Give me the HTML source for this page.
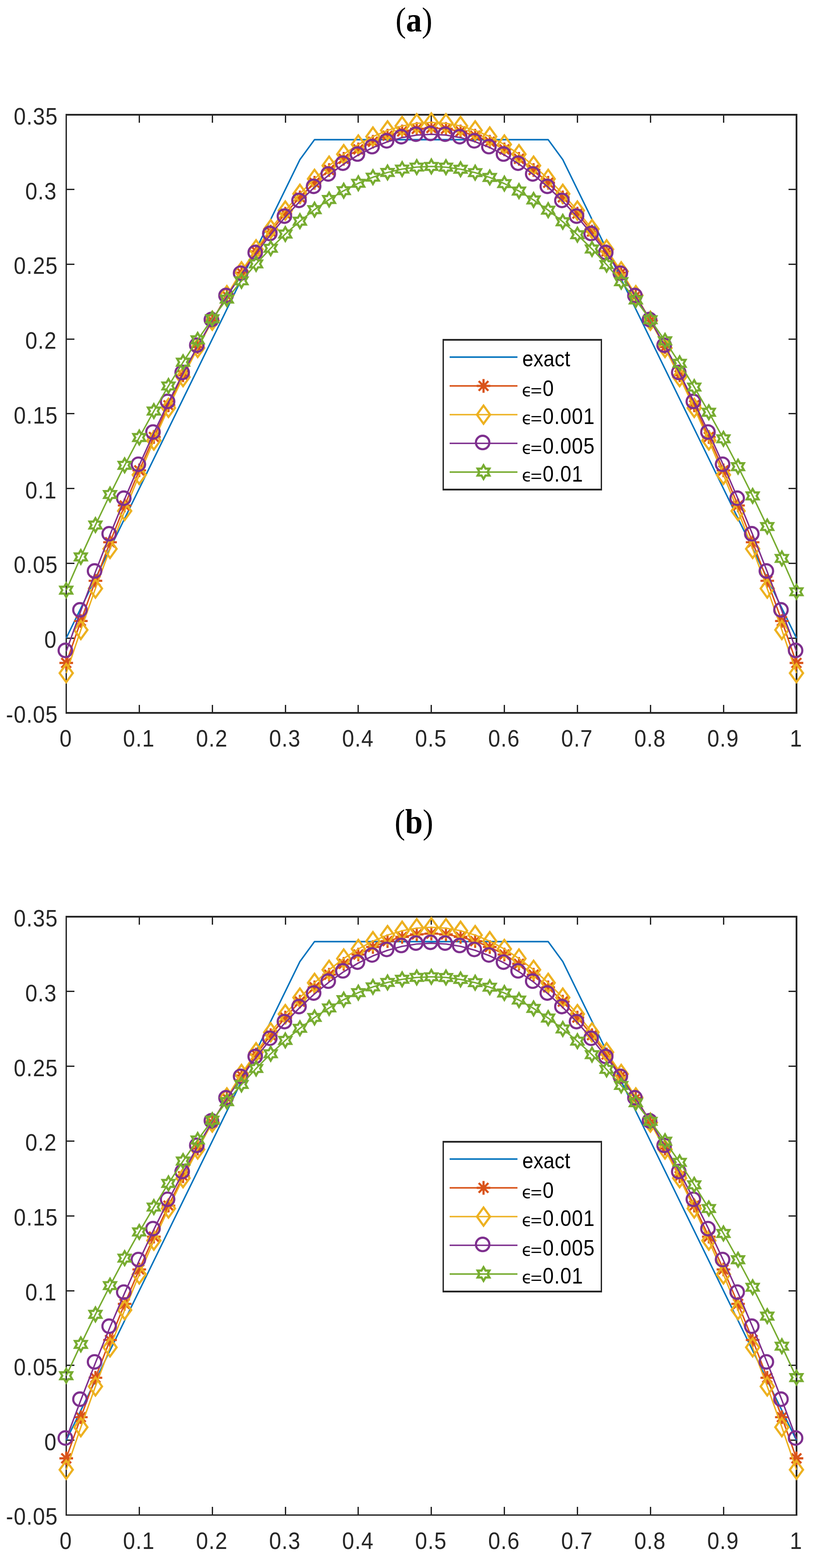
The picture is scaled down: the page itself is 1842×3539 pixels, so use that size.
<!DOCTYPE html>
<html><head><meta charset="utf-8"><title>Plot</title>
<style>html,body{margin:0;padding:0;background:#fff;}svg{display:block;}</style>
</head><body>
<svg width="1842" height="3539" viewBox="0 0 1842 3539">
<rect width="1842" height="3539" fill="#fff"/>
<defs>
<path id="mA" d="M-15.4 0 H15.4 M0 -15.4 V15.4 M-10.89 -10.89 L10.89 10.89 M-10.89 10.89 L10.89 -10.89" fill="none" stroke="#D95319" stroke-width="4.85"/>
<path id="mD" d="M0 -20.5 L14.9 0 L0 20.5 L-14.9 0 Z" fill="none" stroke="#EDB120" stroke-width="4.85" stroke-miterlimit="10"/>
<circle id="mO" cx="-2" cy="-2" r="15.2" fill="none" stroke="#7E2F8E" stroke-width="4.85"/>
<path id="mH" d="M0 -15.5 L-4.47 -7.75 L-13.42 -7.75 L-8.95 -0 L-13.42 7.75 L-4.47 7.75 L-0 15.5 L4.47 7.75 L13.42 7.75 L8.95 0 L13.42 -7.75 L4.47 -7.75 Z" fill="none" stroke="#77AC30" stroke-width="4.85" stroke-miterlimit="10"/>
</defs>
<path d="M148 257h1652v4h-1652z M148 1607h1652v4h-1652z M148 257h3v1354h-3z M1796 257h4v1354h-4z M148 1591h3v18h-3z M148 259h3v18h-3z M313 1591h3v18h-3z M313 259h3v18h-3z M478 1591h3v18h-3z M478 259h3v18h-3z M643 1591h3v18h-3z M643 259h3v18h-3z M807 1591h3v18h-3z M807 259h3v18h-3z M972 1591h3v18h-3z M972 259h3v18h-3z M1137 1591h3v18h-3z M1137 259h3v18h-3z M1302 1591h3v18h-3z M1302 259h3v18h-3z M1467 1591h3v18h-3z M1467 259h3v18h-3z M1632 1591h3v18h-3z M1632 259h3v18h-3z M1796 1591h3v18h-3z M1796 259h3v18h-3z M150 1607h18v3h-18z M1780 1607h18v3h-18z M150 1439h18v3h-18z M1780 1439h18v3h-18z M150 1270h18v3h-18z M1780 1270h18v3h-18z M150 1101h18v3h-18z M1780 1101h18v3h-18z M150 932h18v3h-18z M1780 932h18v3h-18z M150 764h18v3h-18z M1780 764h18v3h-18z M150 595h18v3h-18z M1780 595h18v3h-18z M150 426h18v3h-18z M1780 426h18v3h-18z M150 257h18v3h-18z M1780 257h18v3h-18z" fill="#262626"/>
<polyline points="149.5,1440.25 182.47,1372.75 215.44,1305.25 248.4,1237.75 281.37,1170.25 314.34,1102.75 347.31,1035.25 380.28,967.75 413.24,900.25 446.21,832.75 479.18,765.25 512.15,697.75 545.12,630.25 578.08,562.75 611.05,495.25 644.02,427.75 676.99,360.25 709.96,315.25 742.92,315.25 775.89,315.25 808.86,315.25 841.83,315.25 874.8,315.25 907.76,315.25 940.73,315.25 973.7,315.25 1006.67,315.25 1039.64,315.25 1072.6,315.25 1105.57,315.25 1138.54,315.25 1171.51,315.25 1204.48,315.25 1237.44,315.25 1270.41,360.25 1303.38,427.75 1336.35,495.25 1369.32,562.75 1402.28,630.25 1435.25,697.75 1468.22,765.25 1501.19,832.75 1534.16,900.25 1567.12,967.75 1600.09,1035.25 1633.06,1102.75 1666.03,1170.25 1699,1237.75 1731.96,1305.25 1764.93,1372.75 1797.9,1440.25" fill="none" stroke="#0072BD" stroke-width="3.3" stroke-linejoin="round"/>
<polyline points="149.5,1496.27 182.47,1401.61 215.44,1310.82 248.4,1223.88 281.37,1140.81 314.34,1061.61 347.31,986.27 380.28,914.79 413.24,847.17 446.21,783.42 479.18,723.53 512.15,667.51 545.12,615.35 578.08,567.06 611.05,522.62 644.02,482.05 676.99,445.35 709.96,412.51 742.92,383.53 775.89,358.42 808.86,337.16 841.83,319.78 874.8,306.26 907.76,296.6 940.73,290.8 973.7,288.87 1006.67,290.8 1039.64,296.6 1072.6,306.26 1105.57,319.78 1138.54,337.16 1171.51,358.42 1204.48,383.53 1237.44,412.51 1270.41,445.35 1303.38,482.05 1336.35,522.62 1369.32,567.06 1402.28,615.35 1435.25,667.51 1468.22,723.54 1501.19,783.42 1534.16,847.17 1567.12,914.79 1600.09,986.27 1633.06,1061.61 1666.03,1140.81 1699,1223.88 1731.96,1310.82 1764.93,1401.61 1797.9,1496.27" fill="none" stroke="#D95319" stroke-width="3.3" stroke-linejoin="round"/>
<use href="#mA" x="149.5" y="1496.27"/>
<use href="#mA" x="182.47" y="1401.61"/>
<use href="#mA" x="215.44" y="1310.82"/>
<use href="#mA" x="248.4" y="1223.88"/>
<use href="#mA" x="281.37" y="1140.81"/>
<use href="#mA" x="314.34" y="1061.61"/>
<use href="#mA" x="347.31" y="986.27"/>
<use href="#mA" x="380.28" y="914.79"/>
<use href="#mA" x="413.24" y="847.17"/>
<use href="#mA" x="446.21" y="783.42"/>
<use href="#mA" x="479.18" y="723.53"/>
<use href="#mA" x="512.15" y="667.51"/>
<use href="#mA" x="545.12" y="615.35"/>
<use href="#mA" x="578.08" y="567.06"/>
<use href="#mA" x="611.05" y="522.62"/>
<use href="#mA" x="644.02" y="482.05"/>
<use href="#mA" x="676.99" y="445.35"/>
<use href="#mA" x="709.96" y="412.51"/>
<use href="#mA" x="742.92" y="383.53"/>
<use href="#mA" x="775.89" y="358.42"/>
<use href="#mA" x="808.86" y="337.16"/>
<use href="#mA" x="841.83" y="319.78"/>
<use href="#mA" x="874.8" y="306.26"/>
<use href="#mA" x="907.76" y="296.6"/>
<use href="#mA" x="940.73" y="290.8"/>
<use href="#mA" x="973.7" y="288.87"/>
<use href="#mA" x="1006.67" y="290.8"/>
<use href="#mA" x="1039.64" y="296.6"/>
<use href="#mA" x="1072.6" y="306.26"/>
<use href="#mA" x="1105.57" y="319.78"/>
<use href="#mA" x="1138.54" y="337.16"/>
<use href="#mA" x="1171.51" y="358.42"/>
<use href="#mA" x="1204.48" y="383.53"/>
<use href="#mA" x="1237.44" y="412.51"/>
<use href="#mA" x="1270.41" y="445.35"/>
<use href="#mA" x="1303.38" y="482.05"/>
<use href="#mA" x="1336.35" y="522.62"/>
<use href="#mA" x="1369.32" y="567.06"/>
<use href="#mA" x="1402.28" y="615.35"/>
<use href="#mA" x="1435.25" y="667.51"/>
<use href="#mA" x="1468.22" y="723.54"/>
<use href="#mA" x="1501.19" y="783.42"/>
<use href="#mA" x="1534.16" y="847.17"/>
<use href="#mA" x="1567.12" y="914.79"/>
<use href="#mA" x="1600.09" y="986.27"/>
<use href="#mA" x="1633.06" y="1061.61"/>
<use href="#mA" x="1666.03" y="1140.81"/>
<use href="#mA" x="1699" y="1223.88"/>
<use href="#mA" x="1731.96" y="1310.82"/>
<use href="#mA" x="1764.93" y="1401.61"/>
<use href="#mA" x="1797.9" y="1496.27"/>
<polyline points="149.5,1519.22 182.47,1421.79 215.44,1328.32 248.4,1238.84 281.37,1153.33 314.34,1071.8 347.31,994.25 380.28,920.67 413.24,851.07 446.21,785.45 479.18,723.8 512.15,666.14 545.12,612.45 578.08,562.73 611.05,517 644.02,475.24 676.99,437.45 709.96,403.65 742.92,373.82 775.89,347.97 808.86,326.09 841.83,308.2 874.8,294.28 907.76,284.34 940.73,278.37 973.7,276.38 1006.67,278.37 1039.64,284.34 1072.6,294.28 1105.57,308.2 1138.54,326.09 1171.51,347.97 1204.48,373.82 1237.44,403.65 1270.41,437.45 1303.38,475.24 1336.35,517 1369.32,562.73 1402.28,612.45 1435.25,666.14 1468.22,723.81 1501.19,785.45 1534.16,851.07 1567.12,920.67 1600.09,994.25 1633.06,1071.8 1666.03,1153.33 1699,1238.84 1731.96,1328.32 1764.93,1421.79 1797.9,1519.22" fill="none" stroke="#EDB120" stroke-width="3.3" stroke-linejoin="round"/>
<use href="#mD" x="149.5" y="1519.22"/>
<use href="#mD" x="182.47" y="1421.79"/>
<use href="#mD" x="215.44" y="1328.32"/>
<use href="#mD" x="248.4" y="1238.84"/>
<use href="#mD" x="281.37" y="1153.33"/>
<use href="#mD" x="314.34" y="1071.8"/>
<use href="#mD" x="347.31" y="994.25"/>
<use href="#mD" x="380.28" y="920.67"/>
<use href="#mD" x="413.24" y="851.07"/>
<use href="#mD" x="446.21" y="785.45"/>
<use href="#mD" x="479.18" y="723.8"/>
<use href="#mD" x="512.15" y="666.14"/>
<use href="#mD" x="545.12" y="612.45"/>
<use href="#mD" x="578.08" y="562.73"/>
<use href="#mD" x="611.05" y="517"/>
<use href="#mD" x="644.02" y="475.24"/>
<use href="#mD" x="676.99" y="437.45"/>
<use href="#mD" x="709.96" y="403.65"/>
<use href="#mD" x="742.92" y="373.82"/>
<use href="#mD" x="775.89" y="347.97"/>
<use href="#mD" x="808.86" y="326.09"/>
<use href="#mD" x="841.83" y="308.2"/>
<use href="#mD" x="874.8" y="294.28"/>
<use href="#mD" x="907.76" y="284.34"/>
<use href="#mD" x="940.73" y="278.37"/>
<use href="#mD" x="973.7" y="276.38"/>
<use href="#mD" x="1006.67" y="278.37"/>
<use href="#mD" x="1039.64" y="284.34"/>
<use href="#mD" x="1072.6" y="294.28"/>
<use href="#mD" x="1105.57" y="308.2"/>
<use href="#mD" x="1138.54" y="326.09"/>
<use href="#mD" x="1171.51" y="347.97"/>
<use href="#mD" x="1204.48" y="373.82"/>
<use href="#mD" x="1237.44" y="403.65"/>
<use href="#mD" x="1270.41" y="437.45"/>
<use href="#mD" x="1303.38" y="475.24"/>
<use href="#mD" x="1336.35" y="517"/>
<use href="#mD" x="1369.32" y="562.73"/>
<use href="#mD" x="1402.28" y="612.45"/>
<use href="#mD" x="1435.25" y="666.14"/>
<use href="#mD" x="1468.22" y="723.81"/>
<use href="#mD" x="1501.19" y="785.45"/>
<use href="#mD" x="1534.16" y="851.07"/>
<use href="#mD" x="1567.12" y="920.67"/>
<use href="#mD" x="1600.09" y="994.25"/>
<use href="#mD" x="1633.06" y="1071.8"/>
<use href="#mD" x="1666.03" y="1153.33"/>
<use href="#mD" x="1699" y="1238.84"/>
<use href="#mD" x="1731.96" y="1328.32"/>
<use href="#mD" x="1764.93" y="1421.79"/>
<use href="#mD" x="1797.9" y="1519.22"/>
<polyline points="149.5,1469.95 182.47,1378.46 215.44,1290.71 248.4,1206.7 281.37,1126.41 314.34,1049.86 347.31,977.05 380.28,907.97 413.24,842.62 446.21,781.01 479.18,723.13 512.15,668.99 545.12,618.58 578.08,571.9 611.05,528.96 644.02,489.75 676.99,454.27 709.96,422.53 742.92,394.53 775.89,370.26 808.86,349.72 841.83,332.92 874.8,319.85 907.76,310.51 940.73,304.91 973.7,303.04 1006.67,304.91 1039.64,310.51 1072.6,319.85 1105.57,332.92 1138.54,349.72 1171.51,370.26 1204.48,394.53 1237.44,422.53 1270.41,454.27 1303.38,489.75 1336.35,528.96 1369.32,571.9 1402.28,618.58 1435.25,668.99 1468.22,723.13 1501.19,781.01 1534.16,842.62 1567.12,907.97 1600.09,977.05 1633.06,1049.86 1666.03,1126.41 1699,1206.7 1731.96,1290.71 1764.93,1378.46 1797.9,1469.95" fill="none" stroke="#7E2F8E" stroke-width="3.3" stroke-linejoin="round"/>
<use href="#mO" x="149.5" y="1469.95"/>
<use href="#mO" x="182.47" y="1378.46"/>
<use href="#mO" x="215.44" y="1290.71"/>
<use href="#mO" x="248.4" y="1206.7"/>
<use href="#mO" x="281.37" y="1126.41"/>
<use href="#mO" x="314.34" y="1049.86"/>
<use href="#mO" x="347.31" y="977.05"/>
<use href="#mO" x="380.28" y="907.97"/>
<use href="#mO" x="413.24" y="842.62"/>
<use href="#mO" x="446.21" y="781.01"/>
<use href="#mO" x="479.18" y="723.13"/>
<use href="#mO" x="512.15" y="668.99"/>
<use href="#mO" x="545.12" y="618.58"/>
<use href="#mO" x="578.08" y="571.9"/>
<use href="#mO" x="611.05" y="528.96"/>
<use href="#mO" x="644.02" y="489.75"/>
<use href="#mO" x="676.99" y="454.27"/>
<use href="#mO" x="709.96" y="422.53"/>
<use href="#mO" x="742.92" y="394.53"/>
<use href="#mO" x="775.89" y="370.26"/>
<use href="#mO" x="808.86" y="349.72"/>
<use href="#mO" x="841.83" y="332.92"/>
<use href="#mO" x="874.8" y="319.85"/>
<use href="#mO" x="907.76" y="310.51"/>
<use href="#mO" x="940.73" y="304.91"/>
<use href="#mO" x="973.7" y="303.04"/>
<use href="#mO" x="1006.67" y="304.91"/>
<use href="#mO" x="1039.64" y="310.51"/>
<use href="#mO" x="1072.6" y="319.85"/>
<use href="#mO" x="1105.57" y="332.92"/>
<use href="#mO" x="1138.54" y="349.72"/>
<use href="#mO" x="1171.51" y="370.26"/>
<use href="#mO" x="1204.48" y="394.53"/>
<use href="#mO" x="1237.44" y="422.53"/>
<use href="#mO" x="1270.41" y="454.27"/>
<use href="#mO" x="1303.38" y="489.75"/>
<use href="#mO" x="1336.35" y="528.96"/>
<use href="#mO" x="1369.32" y="571.9"/>
<use href="#mO" x="1402.28" y="618.58"/>
<use href="#mO" x="1435.25" y="668.99"/>
<use href="#mO" x="1468.22" y="723.13"/>
<use href="#mO" x="1501.19" y="781.01"/>
<use href="#mO" x="1534.16" y="842.62"/>
<use href="#mO" x="1567.12" y="907.97"/>
<use href="#mO" x="1600.09" y="977.05"/>
<use href="#mO" x="1633.06" y="1049.86"/>
<use href="#mO" x="1666.03" y="1126.41"/>
<use href="#mO" x="1699" y="1206.7"/>
<use href="#mO" x="1731.96" y="1290.71"/>
<use href="#mO" x="1764.93" y="1378.46"/>
<use href="#mO" x="1797.9" y="1469.95"/>
<polyline points="149.5,1332.04 182.47,1256.99 215.44,1185.01 248.4,1116.09 281.37,1050.24 314.34,987.46 347.31,927.74 380.28,871.09 413.24,817.51 446.21,766.99 479.18,719.53 512.15,675.15 545.12,633.83 578.08,595.57 611.05,560.38 644.02,528.26 676.99,499.2 709.96,473.21 742.92,450.29 775.89,430.43 808.86,413.64 841.83,399.92 874.8,389.26 907.76,381.66 940.73,377.14 973.7,375.67 1006.67,377.28 1039.64,381.95 1072.6,389.69 1105.57,400.49 1138.54,414.36 1171.51,431.3 1204.48,451.3 1237.44,474.37 1270.41,500.5 1303.38,529.7 1336.35,561.97 1369.32,597.3 1402.28,635.7 1435.25,677.16 1468.22,721.69 1501.19,769.29 1534.16,819.95 1567.12,873.68 1600.09,930.48 1633.06,990.34 1666.03,1053.27 1699,1119.26 1731.96,1188.32 1764.93,1260.45 1797.9,1335.64" fill="none" stroke="#77AC30" stroke-width="3.3" stroke-linejoin="round"/>
<use href="#mH" x="149.5" y="1332.04"/>
<use href="#mH" x="182.47" y="1256.99"/>
<use href="#mH" x="215.44" y="1185.01"/>
<use href="#mH" x="248.4" y="1116.09"/>
<use href="#mH" x="281.37" y="1050.24"/>
<use href="#mH" x="314.34" y="987.46"/>
<use href="#mH" x="347.31" y="927.74"/>
<use href="#mH" x="380.28" y="871.09"/>
<use href="#mH" x="413.24" y="817.51"/>
<use href="#mH" x="446.21" y="766.99"/>
<use href="#mH" x="479.18" y="719.53"/>
<use href="#mH" x="512.15" y="675.15"/>
<use href="#mH" x="545.12" y="633.83"/>
<use href="#mH" x="578.08" y="595.57"/>
<use href="#mH" x="611.05" y="560.38"/>
<use href="#mH" x="644.02" y="528.26"/>
<use href="#mH" x="676.99" y="499.2"/>
<use href="#mH" x="709.96" y="473.21"/>
<use href="#mH" x="742.92" y="450.29"/>
<use href="#mH" x="775.89" y="430.43"/>
<use href="#mH" x="808.86" y="413.64"/>
<use href="#mH" x="841.83" y="399.92"/>
<use href="#mH" x="874.8" y="389.26"/>
<use href="#mH" x="907.76" y="381.66"/>
<use href="#mH" x="940.73" y="377.14"/>
<use href="#mH" x="973.7" y="375.67"/>
<use href="#mH" x="1006.67" y="377.28"/>
<use href="#mH" x="1039.64" y="381.95"/>
<use href="#mH" x="1072.6" y="389.69"/>
<use href="#mH" x="1105.57" y="400.49"/>
<use href="#mH" x="1138.54" y="414.36"/>
<use href="#mH" x="1171.51" y="431.3"/>
<use href="#mH" x="1204.48" y="451.3"/>
<use href="#mH" x="1237.44" y="474.37"/>
<use href="#mH" x="1270.41" y="500.5"/>
<use href="#mH" x="1303.38" y="529.7"/>
<use href="#mH" x="1336.35" y="561.97"/>
<use href="#mH" x="1369.32" y="597.3"/>
<use href="#mH" x="1402.28" y="635.7"/>
<use href="#mH" x="1435.25" y="677.16"/>
<use href="#mH" x="1468.22" y="721.69"/>
<use href="#mH" x="1501.19" y="769.29"/>
<use href="#mH" x="1534.16" y="819.95"/>
<use href="#mH" x="1567.12" y="873.68"/>
<use href="#mH" x="1600.09" y="930.48"/>
<use href="#mH" x="1633.06" y="990.34"/>
<use href="#mH" x="1666.03" y="1053.27"/>
<use href="#mH" x="1699" y="1119.26"/>
<use href="#mH" x="1731.96" y="1188.32"/>
<use href="#mH" x="1764.93" y="1260.45"/>
<use href="#mH" x="1797.9" y="1335.64"/>
<g font-family="'Liberation Sans', Arial, sans-serif" font-size="51.0" letter-spacing="1.25" fill="#262626"><text transform="translate(148.7 1685.2) scale(0.959 1.062)" text-anchor="middle">0</text>
<text transform="translate(313.54 1685.2) scale(0.959 1.062)" text-anchor="middle">0.1</text>
<text transform="translate(478.38 1685.2) scale(0.959 1.062)" text-anchor="middle">0.2</text>
<text transform="translate(643.22 1685.2) scale(0.959 1.062)" text-anchor="middle">0.3</text>
<text transform="translate(808.06 1685.2) scale(0.959 1.062)" text-anchor="middle">0.4</text>
<text transform="translate(972.9 1685.2) scale(0.959 1.062)" text-anchor="middle">0.5</text>
<text transform="translate(1137.74 1685.2) scale(0.959 1.062)" text-anchor="middle">0.6</text>
<text transform="translate(1302.58 1685.2) scale(0.959 1.062)" text-anchor="middle">0.7</text>
<text transform="translate(1467.42 1685.2) scale(0.959 1.062)" text-anchor="middle">0.8</text>
<text transform="translate(1632.26 1685.2) scale(0.959 1.062)" text-anchor="middle">0.9</text>
<text transform="translate(1797.1 1685.2) scale(0.959 1.062)" text-anchor="middle">1</text>
<text transform="translate(131 1630.9) scale(0.959 1.062)" text-anchor="end">-0.05</text>
<text transform="translate(128.5 1462.15) scale(0.959 1.062)" text-anchor="end">0</text>
<text transform="translate(131 1293.4) scale(0.959 1.062)" text-anchor="end">0.05</text>
<text transform="translate(128.5 1124.65) scale(0.959 1.062)" text-anchor="end">0.1</text>
<text transform="translate(131 955.9) scale(0.959 1.062)" text-anchor="end">0.15</text>
<text transform="translate(128.5 787.15) scale(0.959 1.062)" text-anchor="end">0.2</text>
<text transform="translate(131 618.4) scale(0.959 1.062)" text-anchor="end">0.25</text>
<text transform="translate(128.5 449.65) scale(0.959 1.062)" text-anchor="end">0.3</text>
<text transform="translate(131 280.9) scale(0.959 1.062)" text-anchor="end">0.35</text></g>
<rect x="999" y="765" width="360" height="342" fill="#fff"/>
<path d="M999 765h360v4h-360z M999 1103h360v4h-360z M999 765h3v342h-3z M1356 765h3v342h-3z" fill="#262626"/>
<path d="M1015 806 H1168.1" stroke="#0072BD" stroke-width="3.3"/>
<path d="M1015 871 H1168.1" stroke="#D95319" stroke-width="3.3"/>
<use href="#mA" x="1091.5" y="871"/>
<path d="M1015 935.9 H1168.1" stroke="#EDB120" stroke-width="3.3"/>
<use href="#mD" x="1091.5" y="935.9"/>
<path d="M1015 1000.7 H1168.1" stroke="#7E2F8E" stroke-width="3.3"/>
<use href="#mO" x="1091.5" y="1000.7"/>
<path d="M1015 1065.5 H1168.1" stroke="#77AC30" stroke-width="3.3"/>
<use href="#mH" x="1091.5" y="1065.5"/>
<g font-family="'Liberation Sans', Arial, sans-serif" font-size="46.0" letter-spacing="1.2" fill="#000"><text transform="translate(1179 827.4) scale(0.975 1.08)" letter-spacing="0.25">exact</text>
<text transform="translate(1197.6 894.2) scale(0.975 0.8)">=</text>
<text transform="translate(1224.96 894.4) scale(0.975 1.085)">0</text>
<text transform="translate(1197.6 957.1) scale(0.975 0.8)">=</text>
<text transform="translate(1224.96 957.3) scale(0.975 1.085)">0.001</text>
<text transform="translate(1197.6 1024.1) scale(0.975 0.8)">=</text>
<text transform="translate(1224.96 1024.3) scale(0.975 1.085)">0.005</text>
<text transform="translate(1197.6 1086.9) scale(0.975 0.8)">=</text>
<text transform="translate(1224.96 1087.1) scale(0.975 1.085)">0.01</text></g>
<g font-family="'DejaVu Sans', sans-serif" font-size="37.6" fill="#000"><text transform="translate(1178.03 893.7) scale(1 1.0)">ϵ</text>
<text transform="translate(1178.03 956.6) scale(1 1.0)">ϵ</text>
<text transform="translate(1178.03 1023.6) scale(1 1.0)">ϵ</text>
<text transform="translate(1178.03 1086.4) scale(1 1.0)">ϵ</text></g>
<g font-family="'Liberation Serif', 'DejaVu Serif', serif" font-weight="bold" font-size="71.5" fill="#000"><text transform="translate(934.4 70.6) scale(1.0 1.09)" text-anchor="middle"><tspan font-weight="normal">(</tspan>a<tspan font-weight="normal">)</tspan></text></g>
<path d="M148 2067h1652v4h-1652z M148 3418h1652v3h-1652z M148 2067h3v1354h-3z M1796 2067h4v1354h-4z M148 3401h3v18h-3z M148 2069h3v18h-3z M313 3401h3v18h-3z M313 2069h3v18h-3z M478 3401h3v18h-3z M478 2069h3v18h-3z M643 3401h3v18h-3z M643 2069h3v18h-3z M807 3401h3v18h-3z M807 2069h3v18h-3z M972 3401h3v18h-3z M972 2069h3v18h-3z M1137 3401h3v18h-3z M1137 2069h3v18h-3z M1302 3401h3v18h-3z M1302 2069h3v18h-3z M1467 3401h3v18h-3z M1467 2069h3v18h-3z M1632 3401h3v18h-3z M1632 2069h3v18h-3z M1796 3401h3v18h-3z M1796 2069h3v18h-3z M150 3418h18v3h-18z M1780 3418h18v3h-18z M150 3249h18v3h-18z M1780 3249h18v3h-18z M150 3080h18v3h-18z M1780 3080h18v3h-18z M150 2912h18v3h-18z M1780 2912h18v3h-18z M150 2743h18v3h-18z M1780 2743h18v3h-18z M150 2574h18v3h-18z M1780 2574h18v3h-18z M150 2405h18v3h-18z M1780 2405h18v3h-18z M150 2236h18v3h-18z M1780 2236h18v3h-18z M150 2068h18v3h-18z M1780 2068h18v3h-18z" fill="#262626"/>
<polyline points="149.5,3250.69 182.47,3183.16 215.44,3115.64 248.4,3048.11 281.37,2980.59 314.34,2913.06 347.31,2845.54 380.28,2778.01 413.24,2710.49 446.21,2642.96 479.18,2575.44 512.15,2507.91 545.12,2440.39 578.08,2372.86 611.05,2305.34 644.02,2237.81 676.99,2170.29 709.96,2125.27 742.92,2125.27 775.89,2125.27 808.86,2125.27 841.83,2125.27 874.8,2125.27 907.76,2125.27 940.73,2125.27 973.7,2125.27 1006.67,2125.27 1039.64,2125.27 1072.6,2125.27 1105.57,2125.27 1138.54,2125.27 1171.51,2125.27 1204.48,2125.27 1237.44,2125.27 1270.41,2170.29 1303.38,2237.81 1336.35,2305.34 1369.32,2372.86 1402.28,2440.39 1435.25,2507.91 1468.22,2575.44 1501.19,2642.96 1534.16,2710.49 1567.12,2778.01 1600.09,2845.54 1633.06,2913.06 1666.03,2980.59 1699,3048.11 1731.96,3115.64 1764.93,3183.16 1797.9,3250.69" fill="none" stroke="#0072BD" stroke-width="3.3" stroke-linejoin="round"/>
<polyline points="149.5,3291.54 182.47,3198.68 215.44,3109.61 248.4,3024.32 281.37,2942.83 314.34,2865.13 347.31,2791.22 380.28,2721.1 413.24,2654.77 446.21,2592.23 479.18,2533.48 512.15,2478.52 545.12,2427.35 578.08,2379.97 611.05,2336.38 644.02,2296.58 676.99,2260.57 709.96,2228.36 742.92,2199.93 775.89,2175.29 808.86,2154.45 841.83,2137.39 874.8,2124.12 907.76,2114.65 940.73,2108.96 973.7,2107.07 1006.67,2108.96 1039.64,2114.65 1072.6,2124.12 1105.57,2137.39 1138.54,2154.45 1171.51,2175.29 1204.48,2199.93 1237.44,2228.36 1270.41,2260.57 1303.38,2296.58 1336.35,2336.38 1369.32,2379.97 1402.28,2427.35 1435.25,2478.52 1468.22,2533.48 1501.19,2592.23 1534.16,2654.77 1567.12,2721.1 1600.09,2791.22 1633.06,2865.13 1666.03,2942.83 1699,3024.32 1731.96,3109.61 1764.93,3198.68 1797.9,3291.54" fill="none" stroke="#D95319" stroke-width="3.3" stroke-linejoin="round"/>
<use href="#mA" x="149.5" y="3291.54"/>
<use href="#mA" x="182.47" y="3198.68"/>
<use href="#mA" x="215.44" y="3109.61"/>
<use href="#mA" x="248.4" y="3024.32"/>
<use href="#mA" x="281.37" y="2942.83"/>
<use href="#mA" x="314.34" y="2865.13"/>
<use href="#mA" x="347.31" y="2791.22"/>
<use href="#mA" x="380.28" y="2721.1"/>
<use href="#mA" x="413.24" y="2654.77"/>
<use href="#mA" x="446.21" y="2592.23"/>
<use href="#mA" x="479.18" y="2533.48"/>
<use href="#mA" x="512.15" y="2478.52"/>
<use href="#mA" x="545.12" y="2427.35"/>
<use href="#mA" x="578.08" y="2379.97"/>
<use href="#mA" x="611.05" y="2336.38"/>
<use href="#mA" x="644.02" y="2296.58"/>
<use href="#mA" x="676.99" y="2260.57"/>
<use href="#mA" x="709.96" y="2228.36"/>
<use href="#mA" x="742.92" y="2199.93"/>
<use href="#mA" x="775.89" y="2175.29"/>
<use href="#mA" x="808.86" y="2154.45"/>
<use href="#mA" x="841.83" y="2137.39"/>
<use href="#mA" x="874.8" y="2124.12"/>
<use href="#mA" x="907.76" y="2114.65"/>
<use href="#mA" x="940.73" y="2108.96"/>
<use href="#mA" x="973.7" y="2107.07"/>
<use href="#mA" x="1006.67" y="2108.96"/>
<use href="#mA" x="1039.64" y="2114.65"/>
<use href="#mA" x="1072.6" y="2124.12"/>
<use href="#mA" x="1105.57" y="2137.39"/>
<use href="#mA" x="1138.54" y="2154.45"/>
<use href="#mA" x="1171.51" y="2175.29"/>
<use href="#mA" x="1204.48" y="2199.93"/>
<use href="#mA" x="1237.44" y="2228.36"/>
<use href="#mA" x="1270.41" y="2260.57"/>
<use href="#mA" x="1303.38" y="2296.58"/>
<use href="#mA" x="1336.35" y="2336.38"/>
<use href="#mA" x="1369.32" y="2379.97"/>
<use href="#mA" x="1402.28" y="2427.35"/>
<use href="#mA" x="1435.25" y="2478.52"/>
<use href="#mA" x="1468.22" y="2533.48"/>
<use href="#mA" x="1501.19" y="2592.23"/>
<use href="#mA" x="1534.16" y="2654.77"/>
<use href="#mA" x="1567.12" y="2721.1"/>
<use href="#mA" x="1600.09" y="2791.22"/>
<use href="#mA" x="1633.06" y="2865.13"/>
<use href="#mA" x="1666.03" y="2942.83"/>
<use href="#mA" x="1699" y="3024.32"/>
<use href="#mA" x="1731.96" y="3109.61"/>
<use href="#mA" x="1764.93" y="3198.68"/>
<use href="#mA" x="1797.9" y="3291.54"/>
<polyline points="149.5,3317.2 182.47,3221.21 215.44,3129.15 248.4,3040.99 281.37,2956.76 314.34,2876.45 347.31,2800.05 380.28,2727.57 413.24,2659.01 446.21,2594.37 479.18,2533.64 512.15,2476.83 545.12,2423.94 578.08,2374.97 611.05,2329.91 644.02,2288.78 676.99,2251.56 709.96,2218.26 742.92,2188.87 775.89,2163.41 808.86,2141.86 841.83,2124.23 874.8,2110.52 907.76,2100.72 940.73,2094.85 973.7,2092.89 1006.67,2094.85 1039.64,2100.72 1072.6,2110.52 1105.57,2124.23 1138.54,2141.86 1171.51,2163.41 1204.48,2188.87 1237.44,2218.26 1270.41,2251.56 1303.38,2288.78 1336.35,2329.91 1369.32,2374.97 1402.28,2423.94 1435.25,2476.83 1468.22,2533.64 1501.19,2594.37 1534.16,2659.01 1567.12,2727.57 1600.09,2800.05 1633.06,2876.45 1666.03,2956.76 1699,3040.99 1731.96,3129.15 1764.93,3221.21 1797.9,3317.2" fill="none" stroke="#EDB120" stroke-width="3.3" stroke-linejoin="round"/>
<use href="#mD" x="149.5" y="3317.2"/>
<use href="#mD" x="182.47" y="3221.21"/>
<use href="#mD" x="215.44" y="3129.15"/>
<use href="#mD" x="248.4" y="3040.99"/>
<use href="#mD" x="281.37" y="2956.76"/>
<use href="#mD" x="314.34" y="2876.45"/>
<use href="#mD" x="347.31" y="2800.05"/>
<use href="#mD" x="380.28" y="2727.57"/>
<use href="#mD" x="413.24" y="2659.01"/>
<use href="#mD" x="446.21" y="2594.37"/>
<use href="#mD" x="479.18" y="2533.64"/>
<use href="#mD" x="512.15" y="2476.83"/>
<use href="#mD" x="545.12" y="2423.94"/>
<use href="#mD" x="578.08" y="2374.97"/>
<use href="#mD" x="611.05" y="2329.91"/>
<use href="#mD" x="644.02" y="2288.78"/>
<use href="#mD" x="676.99" y="2251.56"/>
<use href="#mD" x="709.96" y="2218.26"/>
<use href="#mD" x="742.92" y="2188.87"/>
<use href="#mD" x="775.89" y="2163.41"/>
<use href="#mD" x="808.86" y="2141.86"/>
<use href="#mD" x="841.83" y="2124.23"/>
<use href="#mD" x="874.8" y="2110.52"/>
<use href="#mD" x="907.76" y="2100.72"/>
<use href="#mD" x="940.73" y="2094.85"/>
<use href="#mD" x="973.7" y="2092.89"/>
<use href="#mD" x="1006.67" y="2094.85"/>
<use href="#mD" x="1039.64" y="2100.72"/>
<use href="#mD" x="1072.6" y="2110.52"/>
<use href="#mD" x="1105.57" y="2124.23"/>
<use href="#mD" x="1138.54" y="2141.86"/>
<use href="#mD" x="1171.51" y="2163.41"/>
<use href="#mD" x="1204.48" y="2188.87"/>
<use href="#mD" x="1237.44" y="2218.26"/>
<use href="#mD" x="1270.41" y="2251.56"/>
<use href="#mD" x="1303.38" y="2288.78"/>
<use href="#mD" x="1336.35" y="2329.91"/>
<use href="#mD" x="1369.32" y="2374.97"/>
<use href="#mD" x="1402.28" y="2423.94"/>
<use href="#mD" x="1435.25" y="2476.83"/>
<use href="#mD" x="1468.22" y="2533.64"/>
<use href="#mD" x="1501.19" y="2594.37"/>
<use href="#mD" x="1534.16" y="2659.01"/>
<use href="#mD" x="1567.12" y="2727.57"/>
<use href="#mD" x="1600.09" y="2800.05"/>
<use href="#mD" x="1633.06" y="2876.45"/>
<use href="#mD" x="1666.03" y="2956.76"/>
<use href="#mD" x="1699" y="3040.99"/>
<use href="#mD" x="1731.96" y="3129.15"/>
<use href="#mD" x="1764.93" y="3221.21"/>
<use href="#mD" x="1797.9" y="3317.2"/>
<polyline points="149.5,3247.65 182.47,3159.93 215.44,3075.79 248.4,2995.23 281.37,2918.25 314.34,2844.85 347.31,2775.03 380.28,2708.79 413.24,2646.13 446.21,2587.06 479.18,2531.56 512.15,2479.64 545.12,2431.31 578.08,2386.55 611.05,2345.38 644.02,2307.78 676.99,2273.77 709.96,2243.33 742.92,2216.48 775.89,2193.21 808.86,2173.52 841.83,2157.4 874.8,2144.87 907.76,2135.92 940.73,2130.55 973.7,2128.76 1006.67,2130.55 1039.64,2135.92 1072.6,2144.87 1105.57,2157.4 1138.54,2173.52 1171.51,2193.21 1204.48,2216.48 1237.44,2243.33 1270.41,2273.77 1303.38,2307.78 1336.35,2345.38 1369.32,2386.55 1402.28,2431.31 1435.25,2479.64 1468.22,2531.56 1501.19,2587.06 1534.16,2646.13 1567.12,2708.79 1600.09,2775.03 1633.06,2844.85 1666.03,2918.25 1699,2995.23 1731.96,3075.79 1764.93,3159.93 1797.9,3247.65" fill="none" stroke="#7E2F8E" stroke-width="3.3" stroke-linejoin="round"/>
<use href="#mO" x="149.5" y="3247.65"/>
<use href="#mO" x="182.47" y="3159.93"/>
<use href="#mO" x="215.44" y="3075.79"/>
<use href="#mO" x="248.4" y="2995.23"/>
<use href="#mO" x="281.37" y="2918.25"/>
<use href="#mO" x="314.34" y="2844.85"/>
<use href="#mO" x="347.31" y="2775.03"/>
<use href="#mO" x="380.28" y="2708.79"/>
<use href="#mO" x="413.24" y="2646.13"/>
<use href="#mO" x="446.21" y="2587.06"/>
<use href="#mO" x="479.18" y="2531.56"/>
<use href="#mO" x="512.15" y="2479.64"/>
<use href="#mO" x="545.12" y="2431.31"/>
<use href="#mO" x="578.08" y="2386.55"/>
<use href="#mO" x="611.05" y="2345.38"/>
<use href="#mO" x="644.02" y="2307.78"/>
<use href="#mO" x="676.99" y="2273.77"/>
<use href="#mO" x="709.96" y="2243.33"/>
<use href="#mO" x="742.92" y="2216.48"/>
<use href="#mO" x="775.89" y="2193.21"/>
<use href="#mO" x="808.86" y="2173.52"/>
<use href="#mO" x="841.83" y="2157.4"/>
<use href="#mO" x="874.8" y="2144.87"/>
<use href="#mO" x="907.76" y="2135.92"/>
<use href="#mO" x="940.73" y="2130.55"/>
<use href="#mO" x="973.7" y="2128.76"/>
<use href="#mO" x="1006.67" y="2130.55"/>
<use href="#mO" x="1039.64" y="2135.92"/>
<use href="#mO" x="1072.6" y="2144.87"/>
<use href="#mO" x="1105.57" y="2157.4"/>
<use href="#mO" x="1138.54" y="2173.52"/>
<use href="#mO" x="1171.51" y="2193.21"/>
<use href="#mO" x="1204.48" y="2216.48"/>
<use href="#mO" x="1237.44" y="2243.33"/>
<use href="#mO" x="1270.41" y="2273.77"/>
<use href="#mO" x="1303.38" y="2307.78"/>
<use href="#mO" x="1336.35" y="2345.38"/>
<use href="#mO" x="1369.32" y="2386.55"/>
<use href="#mO" x="1402.28" y="2431.31"/>
<use href="#mO" x="1435.25" y="2479.64"/>
<use href="#mO" x="1468.22" y="2531.56"/>
<use href="#mO" x="1501.19" y="2587.06"/>
<use href="#mO" x="1534.16" y="2646.13"/>
<use href="#mO" x="1567.12" y="2708.79"/>
<use href="#mO" x="1600.09" y="2775.03"/>
<use href="#mO" x="1633.06" y="2844.85"/>
<use href="#mO" x="1666.03" y="2918.25"/>
<use href="#mO" x="1699" y="2995.23"/>
<use href="#mO" x="1731.96" y="3075.79"/>
<use href="#mO" x="1764.93" y="3159.93"/>
<use href="#mO" x="1797.9" y="3247.65"/>
<polyline points="149.5,3104.97 182.47,3034.31 215.44,2966.53 248.4,2901.64 281.37,2839.64 314.34,2780.52 347.31,2724.3 380.28,2670.96 413.24,2620.51 446.21,2572.94 479.18,2528.27 512.15,2486.48 545.12,2447.58 578.08,2411.57 611.05,2378.45 644.02,2348.21 676.99,2320.86 709.96,2296.4 742.92,2274.83 775.89,2256.15 808.86,2240.35 841.83,2227.44 874.8,2217.42 907.76,2210.29 940.73,2206.04 973.7,2204.68 1006.67,2206.21 1039.64,2210.63 1072.6,2217.93 1105.57,2228.13 1138.54,2241.21 1171.51,2257.18 1204.48,2276.04 1237.44,2297.78 1270.41,2322.41 1303.38,2349.93 1336.35,2380.34 1369.32,2413.64 1402.28,2449.82 1435.25,2488.89 1468.22,2530.85 1501.19,2575.7 1534.16,2623.43 1567.12,2674.06 1600.09,2727.57 1633.06,2783.96 1666.03,2843.25 1699,2905.42 1731.96,2970.49 1764.93,3038.44 1797.9,3109.27" fill="none" stroke="#77AC30" stroke-width="3.3" stroke-linejoin="round"/>
<use href="#mH" x="149.5" y="3104.97"/>
<use href="#mH" x="182.47" y="3034.31"/>
<use href="#mH" x="215.44" y="2966.53"/>
<use href="#mH" x="248.4" y="2901.64"/>
<use href="#mH" x="281.37" y="2839.64"/>
<use href="#mH" x="314.34" y="2780.52"/>
<use href="#mH" x="347.31" y="2724.3"/>
<use href="#mH" x="380.28" y="2670.96"/>
<use href="#mH" x="413.24" y="2620.51"/>
<use href="#mH" x="446.21" y="2572.94"/>
<use href="#mH" x="479.18" y="2528.27"/>
<use href="#mH" x="512.15" y="2486.48"/>
<use href="#mH" x="545.12" y="2447.58"/>
<use href="#mH" x="578.08" y="2411.57"/>
<use href="#mH" x="611.05" y="2378.45"/>
<use href="#mH" x="644.02" y="2348.21"/>
<use href="#mH" x="676.99" y="2320.86"/>
<use href="#mH" x="709.96" y="2296.4"/>
<use href="#mH" x="742.92" y="2274.83"/>
<use href="#mH" x="775.89" y="2256.15"/>
<use href="#mH" x="808.86" y="2240.35"/>
<use href="#mH" x="841.83" y="2227.44"/>
<use href="#mH" x="874.8" y="2217.42"/>
<use href="#mH" x="907.76" y="2210.29"/>
<use href="#mH" x="940.73" y="2206.04"/>
<use href="#mH" x="973.7" y="2204.68"/>
<use href="#mH" x="1006.67" y="2206.21"/>
<use href="#mH" x="1039.64" y="2210.63"/>
<use href="#mH" x="1072.6" y="2217.93"/>
<use href="#mH" x="1105.57" y="2228.13"/>
<use href="#mH" x="1138.54" y="2241.21"/>
<use href="#mH" x="1171.51" y="2257.18"/>
<use href="#mH" x="1204.48" y="2276.04"/>
<use href="#mH" x="1237.44" y="2297.78"/>
<use href="#mH" x="1270.41" y="2322.41"/>
<use href="#mH" x="1303.38" y="2349.93"/>
<use href="#mH" x="1336.35" y="2380.34"/>
<use href="#mH" x="1369.32" y="2413.64"/>
<use href="#mH" x="1402.28" y="2449.82"/>
<use href="#mH" x="1435.25" y="2488.89"/>
<use href="#mH" x="1468.22" y="2530.85"/>
<use href="#mH" x="1501.19" y="2575.7"/>
<use href="#mH" x="1534.16" y="2623.43"/>
<use href="#mH" x="1567.12" y="2674.06"/>
<use href="#mH" x="1600.09" y="2727.57"/>
<use href="#mH" x="1633.06" y="2783.96"/>
<use href="#mH" x="1666.03" y="2843.25"/>
<use href="#mH" x="1699" y="2905.42"/>
<use href="#mH" x="1731.96" y="2970.49"/>
<use href="#mH" x="1764.93" y="3038.44"/>
<use href="#mH" x="1797.9" y="3109.27"/>
<g font-family="'Liberation Sans', Arial, sans-serif" font-size="51.0" letter-spacing="1.25" fill="#262626"><text transform="translate(148.7 3495.7) scale(0.959 1.062)" text-anchor="middle">0</text>
<text transform="translate(313.54 3495.7) scale(0.959 1.062)" text-anchor="middle">0.1</text>
<text transform="translate(478.38 3495.7) scale(0.959 1.062)" text-anchor="middle">0.2</text>
<text transform="translate(643.22 3495.7) scale(0.959 1.062)" text-anchor="middle">0.3</text>
<text transform="translate(808.06 3495.7) scale(0.959 1.062)" text-anchor="middle">0.4</text>
<text transform="translate(972.9 3495.7) scale(0.959 1.062)" text-anchor="middle">0.5</text>
<text transform="translate(1137.74 3495.7) scale(0.959 1.062)" text-anchor="middle">0.6</text>
<text transform="translate(1302.58 3495.7) scale(0.959 1.062)" text-anchor="middle">0.7</text>
<text transform="translate(1467.42 3495.7) scale(0.959 1.062)" text-anchor="middle">0.8</text>
<text transform="translate(1632.26 3495.7) scale(0.959 1.062)" text-anchor="middle">0.9</text>
<text transform="translate(1797.1 3495.7) scale(0.959 1.062)" text-anchor="middle">1</text>
<text transform="translate(131 3441.4) scale(0.959 1.062)" text-anchor="end">-0.05</text>
<text transform="translate(128.5 3272.59) scale(0.959 1.062)" text-anchor="end">0</text>
<text transform="translate(131 3103.78) scale(0.959 1.062)" text-anchor="end">0.05</text>
<text transform="translate(128.5 2934.96) scale(0.959 1.062)" text-anchor="end">0.1</text>
<text transform="translate(131 2766.15) scale(0.959 1.062)" text-anchor="end">0.15</text>
<text transform="translate(128.5 2597.34) scale(0.959 1.062)" text-anchor="end">0.2</text>
<text transform="translate(131 2428.52) scale(0.959 1.062)" text-anchor="end">0.25</text>
<text transform="translate(128.5 2259.71) scale(0.959 1.062)" text-anchor="end">0.3</text>
<text transform="translate(131 2090.9) scale(0.959 1.062)" text-anchor="end">0.35</text></g>
<rect x="999" y="2575" width="360" height="342" fill="#fff"/>
<path d="M999 2575h360v4h-360z M999 2913h360v4h-360z M999 2575h3v342h-3z M1356 2575h3v342h-3z" fill="#262626"/>
<path d="M1015 2616 H1168.1" stroke="#0072BD" stroke-width="3.3"/>
<path d="M1015 2681 H1168.1" stroke="#D95319" stroke-width="3.3"/>
<use href="#mA" x="1091.5" y="2681"/>
<path d="M1015 2745.9 H1168.1" stroke="#EDB120" stroke-width="3.3"/>
<use href="#mD" x="1091.5" y="2745.9"/>
<path d="M1015 2810.7 H1168.1" stroke="#7E2F8E" stroke-width="3.3"/>
<use href="#mO" x="1091.5" y="2810.7"/>
<path d="M1015 2875.5 H1168.1" stroke="#77AC30" stroke-width="3.3"/>
<use href="#mH" x="1091.5" y="2875.5"/>
<g font-family="'Liberation Sans', Arial, sans-serif" font-size="46.0" letter-spacing="1.2" fill="#000"><text transform="translate(1179 2637.4) scale(0.975 1.08)" letter-spacing="0.25">exact</text>
<text transform="translate(1197.6 2704.2) scale(0.975 0.8)">=</text>
<text transform="translate(1224.96 2704.4) scale(0.975 1.085)">0</text>
<text transform="translate(1197.6 2767.1) scale(0.975 0.8)">=</text>
<text transform="translate(1224.96 2767.3) scale(0.975 1.085)">0.001</text>
<text transform="translate(1197.6 2834.1) scale(0.975 0.8)">=</text>
<text transform="translate(1224.96 2834.3) scale(0.975 1.085)">0.005</text>
<text transform="translate(1197.6 2896.9) scale(0.975 0.8)">=</text>
<text transform="translate(1224.96 2897.1) scale(0.975 1.085)">0.01</text></g>
<g font-family="'DejaVu Sans', sans-serif" font-size="37.6" fill="#000"><text transform="translate(1178.03 2703.7) scale(1 1.0)">ϵ</text>
<text transform="translate(1178.03 2766.6) scale(1 1.0)">ϵ</text>
<text transform="translate(1178.03 2833.6) scale(1 1.0)">ϵ</text>
<text transform="translate(1178.03 2896.4) scale(1 1.0)">ϵ</text></g>
<g font-family="'Liberation Serif', 'DejaVu Serif', serif" font-weight="bold" font-size="71.5" fill="#000"><text transform="translate(934.4 1880.6) scale(1.0 1.09)" text-anchor="middle"><tspan font-weight="normal">(</tspan>b<tspan font-weight="normal">)</tspan></text></g>
</svg>
</body></html>
